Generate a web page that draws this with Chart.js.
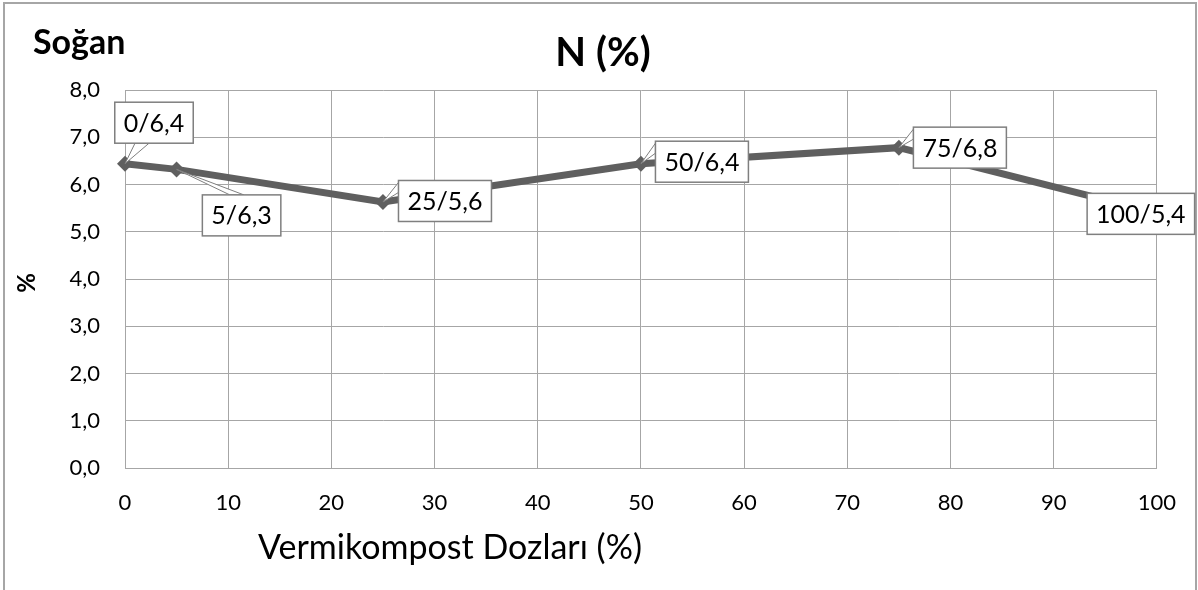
<!DOCTYPE html>
<html>
<head>
<meta charset="utf-8">
<script src="https://cdn.jsdelivr.net/npm/chart.js@4.4.1/dist/chart.umd.min.js"></script>
<style>
  html, body { margin: 0; padding: 0; background: #fff; }
  #wrap { width: 1198px; height: 590px; position: relative; }
</style>
</head>
<body>
<div id="wrap"><canvas id="n-chart" width="1198" height="590"></canvas></div>
<script>
// data
const doses = [0, 5, 25, 50, 75, 100]; // vermikompost doses (%)
const nValues = [6.44, 6.32, 5.63, 6.44, 6.78, 5.40]; // N (%)
const yTicks = [0, 1, 2, 3, 4, 5, 6, 7, 8];
const xTicks = [0, 10, 20, 30, 40, 50, 60, 70, 80, 90, 100];

const FONT = "Lato, 'Open Sans', sans-serif";
const GRID = "#a6a6a6";
const LINE = "#5f5f5f";

// comma decimal like the original
const fmt = (v) => v.toFixed(1).replace(".", ",");

// where each callout box sits relative to its point (dx, dy of box centre)
const calloutOffsets = [
  [29, -41],
  [65, 46],
  [62, -1],
  [61, -2],
  [61, 0],
  [-16, 1],
];

// draws the frame + extra texts (titles) on the canvas
const decorPlugin = {
  id: "decor",
  beforeDraw(chart) {
    const ctx = chart.ctx;
    ctx.save();
    ctx.fillStyle = "#fff";
    ctx.fillRect(0, 0, chart.width, chart.height);
    ctx.strokeStyle = "#a6a6a6";
    ctx.lineWidth = 2;
    ctx.strokeRect(4, 3, 1192, 640);
    ctx.restore();
  },
  afterDraw(chart) {
    const ctx = chart.ctx;
    ctx.save();
    ctx.fillStyle = "#000";
    ctx.textBaseline = "alphabetic";

    ctx.font = "bold 34px " + FONT;
    ctx.textAlign = "left";
    ctx.fillText("Soğan", 33, 54);

    ctx.font = "bold 40px " + FONT;
    ctx.textAlign = "center";
    ctx.fillText("N (%)", 603, 66);

    ctx.font = "34px " + FONT;
    ctx.fillText("Vermikompost Dozları (%)", 450, 559);

    ctx.translate(27, 283);
    ctx.rotate(-Math.PI / 2);
    ctx.font = "bold 24px " + FONT;
    ctx.textBaseline = "middle";
    ctx.fillText("%", 0, 0);
    ctx.restore();
  },
};

// callout boxes with a small wedge pointing at the marker
const calloutPlugin = {
  id: "callouts",
  afterDatasetsDraw(chart) {
    const ctx = chart.ctx;
    const meta = chart.getDatasetMeta(0);
    ctx.save();
    ctx.font = "25px " + FONT;
    ctx.textAlign = "center";
    ctx.textBaseline = "middle";
    meta.data.forEach((pt, i) => {
      const text = doses[i] + "/" + fmt(nValues[i]);
      const w = ctx.measureText(text).width + 18;
      const h = 41;
      const cx = pt.x + calloutOffsets[i][0];
      const cy = pt.y + calloutOffsets[i][1];
      const bx = cx - w / 2, by = cy - h / 2;

      // wedge from the box to the point
      const inside = pt.x >= bx && pt.x <= bx + w && pt.y >= by && pt.y <= by + h;
      if (!inside) {
        let ax, ay, bx2, by2;
        if (pt.y > by + h) { // point below box
          ax = Math.max(bx + 8, Math.min(pt.x + 10, bx + w - 30)); ay = by + h;
          bx2 = ax + 14; by2 = by + h;
        } else if (pt.y < by) { // point above box
          ax = bx + w * 0.35; ay = by;
          bx2 = ax + 14; by2 = by;
        } else { // point left of box
          ax = bx; ay = by + 2;
          bx2 = bx; by2 = by + 12;
        }
        ctx.beginPath();
        ctx.moveTo(ax, ay);
        ctx.lineTo(pt.x, pt.y);
        ctx.lineTo(bx2, by2);
        ctx.closePath();
        ctx.fillStyle = "#fff";
        ctx.fill();
        ctx.strokeStyle = "#7f7f7f";
        ctx.lineWidth = 1;
        ctx.stroke();
      }

      ctx.fillStyle = "#fff";
      ctx.fillRect(bx, by, w, h);
      ctx.strokeStyle = "#7f7f7f";
      ctx.lineWidth = 1.5;
      ctx.strokeRect(bx, by, w, h);
      ctx.fillStyle = "#000";
      ctx.fillText(text, cx, cy + 1);
    });
    ctx.restore();
  },
};

const nData = {
  datasets: [
    {
      label: "N (%)",
      data: doses.map((d, i) => ({ x: d, y: nValues[i] })),
      showLine: true,
      borderColor: LINE,
      borderWidth: 7,
      backgroundColor: LINE,
      pointStyle: "rectRot",
      pointRadius: 8,
      pointBorderWidth: 0,
      tension: 0,
      clip: false,
    },
  ],
};

const nConfig = {
  type: "scatter",
  data: nData,
  options: {
    responsive: false,
    animation: false,
    layout: { padding: { top: 90, right: 37, left: 0, bottom: 0 } },
    plugins: {
      legend: { display: false },
      tooltip: { enabled: false },
    },
    scales: {
      x: {
        type: "linear",
        min: 0,
        max: 100,
        afterBuildTicks: (s) => { s.ticks = xTicks.map((v) => ({ value: v })); },
        afterFit: (s) => { s.height = 122; },
        ticks: { color: "#000", font: { family: FONT, size: 22 }, padding: 22, maxRotation: 0 },
        grid: { color: GRID, lineWidth: 1, drawTicks: false },
        border: { color: GRID, width: 1 },
      },
      y: {
        min: 0,
        max: 8,
        afterBuildTicks: (s) => { s.ticks = yTicks.map((v) => ({ value: v })); },
        afterFit: (s) => { s.width = 125; },
        ticks: { color: "#000", font: { family: FONT, size: 22 }, padding: 25, callback: (v) => fmt(v) },
        grid: { color: GRID, lineWidth: 1, drawTicks: false },
        border: { color: GRID, width: 1 },
      },
    },
  },
  plugins: [decorPlugin, calloutPlugin],
};

const nChart = new Chart(document.getElementById("n-chart"), nConfig);
</script>
</body>
</html>
